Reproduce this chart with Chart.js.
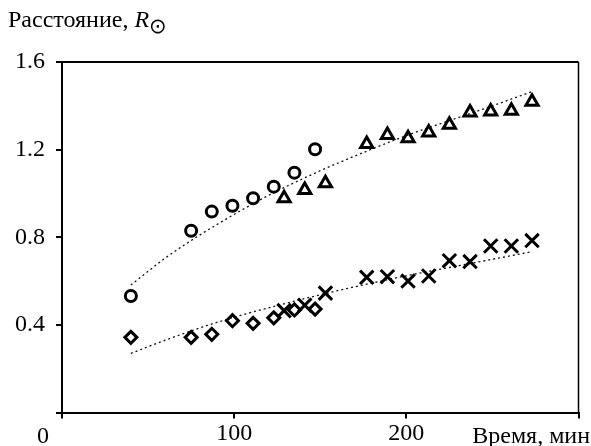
<!DOCTYPE html>
<html>
<head>
<meta charset="utf-8">
<script src="https://cdn.jsdelivr.net/npm/chart.js@4"></script>
<style>
  html, body { margin: 0; padding: 0; background: #fff; }
  #wrap { width: 591px; height: 446px; }
</style>
</head>
<body>
<div id="wrap"><canvas id="myChart" width="591" height="446"></canvas></div>
<script>
// time, min
const circle_x = [40, 75, 87, 99, 111, 123, 135, 147];
const circle_y = [0.532, 0.830, 0.917, 0.944, 0.978, 1.031, 1.095, 1.202];

const triangle_x = [129, 141, 153, 177, 189, 201, 213, 225, 237, 249, 261, 273];
const triangle_y = [0.978, 1.016, 1.047, 1.226, 1.267, 1.252, 1.278, 1.313, 1.369, 1.374, 1.378, 1.419];

const diamond_x = [40, 75, 87, 99, 111, 123, 135, 147];
const diamond_y = [0.343, 0.343, 0.357, 0.419, 0.407, 0.432, 0.468, 0.472];

const cross_x = [129, 141, 153, 177, 189, 201, 213, 225, 237, 249, 261, 273];
const cross_y = [0.465, 0.49, 0.545, 0.617, 0.620, 0.600, 0.623, 0.693, 0.689, 0.760, 0.760, 0.785];

// dotted trend curves
const upper_fit_x = [40, 60, 75, 90, 118, 147, 177, 200, 226, 250, 273];
const upper_fit_y = [0.582, 0.705, 0.785, 0.858, 0.983, 1.093, 1.193, 1.264, 1.335, 1.400, 1.465];
const lower_fit_x = [40, 60, 80, 100, 130, 160, 200, 237, 273];
const lower_fit_y = [0.27, 0.33, 0.386, 0.435, 0.498, 0.556, 0.624, 0.680, 0.734];

const x_ticks = [0, 100, 200, 300];
const y_ticks = [0, 0.4, 0.8, 1.2, 1.6];

const serif = "'Liberation Serif', 'DejaVu Serif', serif";
const zip = (xs, ys) => xs.map((x, i) => ({ x, y: ys[i] }));

const marker = (label, xs, ys, style, radius) => ({
    type: 'scatter',
    label,
    data: zip(xs, ys),
    pointStyle: style,
    pointRadius: radius,
    pointBorderWidth: 3,
    pointBorderColor: '#000',
    pointBackgroundColor: 'rgba(0,0,0,0)',
    order: 1
});

const fit = (label, xs, ys) => ({
    type: 'line',
    label,
    data: zip(xs, ys),
    borderColor: '#111',
    borderWidth: 1.3,
    borderDash: [2, 3],
    pointRadius: 0,
    cubicInterpolationMode: 'monotone',
    fill: false,
    order: 2
});

const frame_and_text = {
    id: 'frame_and_text',
    afterDraw(chart) {
        const { ctx, chartArea: a } = chart;
        ctx.save();
        ctx.strokeStyle = '#000';
        ctx.lineWidth = 2;
        ctx.beginPath();
        ctx.moveTo(a.left - 6, a.top);
        ctx.lineTo(a.right, a.top);
        ctx.stroke();
        ctx.lineWidth = 1.5;
        ctx.beginPath();
        ctx.moveTo(a.right, a.top);
        ctx.lineTo(a.right, a.bottom);
        ctx.stroke();

        ctx.fillStyle = '#000';
        ctx.textBaseline = 'alphabetic';
        ctx.font = `24px ${serif}`;
        ctx.textAlign = 'center';
        ctx.fillText('0', a.left - 19, a.bottom + 30);
        ctx.textAlign = 'right';
        ctx.fillText('Время, мин', chart.width - 1, a.bottom + 30);

        // y axis title
        ctx.textAlign = 'left';
        ctx.font = `24px ${serif}`;
        const t = 'Расстояние, ';
        ctx.fillText(t, 8, 27);
        let w = ctx.measureText(t).width + 8;
        ctx.font = `italic 24px ${serif}`;
        ctx.fillText('R', w, 27);
        w += ctx.measureText('R').width;
        ctx.font = `21px 'DejaVu Sans', sans-serif`;
        ctx.fillText('⊙', w, 33);
        ctx.restore();
    }
};

new Chart(document.getElementById('myChart').getContext('2d'), {
    data: {
        datasets: [
            fit('upper fit', upper_fit_x, upper_fit_y),
            fit('lower fit', lower_fit_x, lower_fit_y),
            marker('circles', circle_x, circle_y, 'circle', 5.5),
            marker('triangles', triangle_x, triangle_y, 'triangle', 7),
            marker('diamonds', diamond_x, diamond_y, 'rectRot', 6),
            marker('crosses', cross_x, cross_y, 'crossRot', 9.5)
        ]
    },
    options: {
        responsive: false,
        animation: false,
        layout: { padding: { top: 62, right: 3, left: 0, bottom: 0 } },
        plugins: {
            legend: { display: false },
            tooltip: { enabled: false }
        },
        scales: {
            x: {
                type: 'linear',
                min: 0,
                max: 300,
                afterBuildTicks: scale => { scale.ticks = x_ticks.map(value => ({ value })); },
                afterFit: scale => { scale.height = 33.5; },
                border: { color: '#000', width: 2 },
                grid: { drawOnChartArea: false, color: '#000', tickLength: 6, lineWidth: 2 },
                ticks: {
                    color: '#000',
                    font: { family: serif, size: 24 },
                    padding: 1,
                    maxRotation: 0,
                    callback: v => (v === 0 || v === 300) ? '' : String(v)
                }
            },
            y: {
                type: 'linear',
                min: 0,
                max: 1.6,
                afterBuildTicks: scale => { scale.ticks = y_ticks.map(value => ({ value })); },
                afterFit: scale => { scale.width = 62; },
                border: { color: '#000', width: 2 },
                grid: { drawOnChartArea: false, color: '#000', tickLength: 6, lineWidth: 2 },
                ticks: {
                    color: '#000',
                    font: { family: serif, size: 24 },
                    padding: 11,
                    callback: v => v === 0 ? '' : v.toFixed(1)
                }
            }
        }
    },
    plugins: [frame_and_text]
});
</script>
</body>
</html>
